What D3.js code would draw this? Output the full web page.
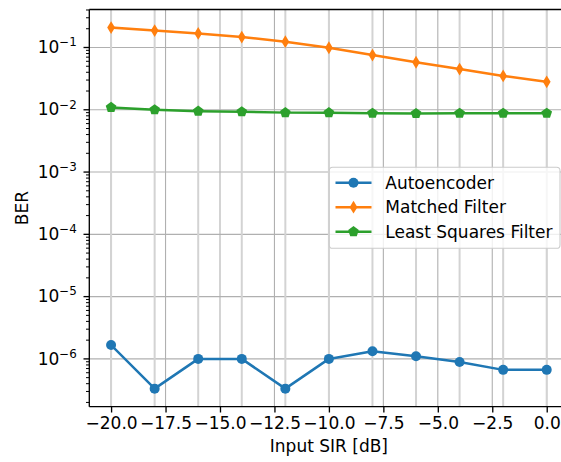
<!DOCTYPE html>
<html>
<head>
<meta charset="utf-8">
<script src="https://cdn.jsdelivr.net/npm/d3@7"></script>
<style>
  html, body { margin: 0; padding: 0; background: #fff; }
  svg { display: block; font-family: "DejaVu Sans", sans-serif; }
</style>
</head>
<body>
<div id="chart"></div>
<script>
// Input SIR values (dB)
const sir = [-20, -18, -16, -14, -12, -10, -8, -6, -4, -2, 0];

// Bit error rates per receiver
const autoencoder    = [1.67e-6, 3.33e-7, 1.0e-6, 1.0e-6, 3.33e-7, 1.0e-6, 1.33e-6, 1.1e-6, 8.9e-7, 6.67e-7, 6.67e-7];
const matchedFilter  = [0.209, 0.187, 0.168, 0.147, 0.124, 0.099, 0.0755, 0.058, 0.045, 0.035, 0.0281];
const leastSquares   = [0.0109, 0.0100, 0.0095, 0.0093, 0.0090, 0.0090, 0.0088, 0.0087, 0.0088, 0.0088, 0.0088];

const seriesNames = ["Autoencoder", "Matched Filter", "Least Squares Filter"];
const seriesColors = ["#1f77b4", "#ff7f0e", "#2ca02c"];
const seriesMarkers = ["circle", "thin_diamond", "pentagon"];

const xTicks = [-20, -17.5, -15, -12.5, -10, -7.5, -5, -2.5, 0];
const yMajorExponents = [-6, -5, -4, -3, -2, -1];

const W = 561, H = 462;
const fs = 17;
const plot = { left: 89.3, top: 9.5, right: 568.5, bottom: 406.7 };

const svg = d3.select("#chart").append("svg")
  .attr("width", W).attr("height", H);

const allSeries = [autoencoder, matchedFilter, leastSquares];
const allVals = allSeries.flat();
const lmin = Math.log10(d3.min(allVals)), lmax = Math.log10(d3.max(allVals));
const pad = 0.05 * (lmax - lmin);

const x = d3.scaleLinear().domain([-21, 1]).range([plot.left, plot.right]);
const y = d3.scaleLog().domain([10 ** (lmin - pad), 10 ** (lmax + pad)]).range([plot.bottom, plot.top]);

svg.append("clipPath").attr("id", "plotclip").append("rect")
  .attr("x", plot.left).attr("y", plot.top)
  .attr("width", plot.right - plot.left).attr("height", plot.bottom - plot.top);

const g = svg.append("g");

// major grid
const gridG = g.append("g").attr("clip-path", "url(#plotclip)");
gridG.selectAll("line.gx").data(xTicks).join("line")
  .attr("x1", d => x(d)).attr("x2", d => x(d))
  .attr("y1", plot.top).attr("y2", plot.bottom)
  .attr("stroke", "#b0b0b0").attr("stroke-width", 1.1);
gridG.selectAll("line.gy").data(yMajorExponents).join("line")
  .attr("x1", plot.left).attr("x2", plot.right)
  .attr("y1", d => y(10 ** d)).attr("y2", d => y(10 ** d))
  .attr("stroke", "#b0b0b0").attr("stroke-width", 1.1);

// reference lines at each measured SIR
gridG.selectAll("line.vx").data(sir).join("line")
  .attr("x1", d => x(d)).attr("x2", d => x(d))
  .attr("y1", plot.top).attr("y2", plot.bottom)
  .attr("stroke", "#d3d3d3").attr("stroke-width", 2);

// marker shapes
function markerPath(type, size) {
  if (type === "circle") {
    return d3.symbol(d3.symbolCircle, Math.PI * (size / 2) ** 2)();
  }
  if (type === "thin_diamond") {
    const h = size * 0.64, w = size * 0.39;
    return `M0,${-h}L${w},0L0,${h}L${-w},0Z`;
  }
  if (type === "pentagon") {
    const r = size * 0.56;
    let p = "";
    for (let i = 0; i < 5; i++) {
      const a = -Math.PI / 2 + i * 2 * Math.PI / 5;
      p += (i ? "L" : "M") + (r * Math.cos(a)).toFixed(2) + "," + (r * Math.sin(a)).toFixed(2);
    }
    return p + "Z";
  }
}

const line = d3.line().x(d => x(d[0])).y(d => y(d[1]));
const dataG = g.append("g").attr("clip-path", "url(#plotclip)");
allSeries.forEach((vals, i) => {
  const pts = sir.map((s, j) => [s, vals[j]]);
  dataG.append("path").datum(pts)
    .attr("d", line).attr("fill", "none")
    .attr("stroke", seriesColors[i]).attr("stroke-width", 2.5)
    .attr("stroke-linejoin", "round").attr("stroke-linecap", "square");
  dataG.selectAll(null).data(pts).join("path")
    .attr("transform", d => `translate(${x(d[0])},${y(d[1])})`)
    .attr("d", markerPath(seriesMarkers[i], 10))
    .attr("fill", seriesColors[i]);
});

// x axis
const xAxis = d3.axisBottom(x).tickValues(xTicks)
  .tickFormat(d => d3.format(".1f")(d).replace("-", "\u2212"))
  .tickSize(5.8).tickPadding(4.6);
const xg = svg.append("g").attr("transform", `translate(0,${plot.bottom})`).call(xAxis);
xg.select(".domain").remove();
xg.selectAll(".tick line").attr("stroke", "#000").attr("stroke-width", 1.33);
xg.selectAll(".tick text").attr("font-size", fs).attr("fill", "#000")
  .attr("font-family", "DejaVu Sans");

// y axis: minor ticks
const [d0, d1] = y.domain();
const minor = [];
for (let e = Math.floor(Math.log10(d0)); e <= Math.ceil(Math.log10(d1)); e++) {
  for (let k = 2; k <= 9; k++) {
    const v = k * 10 ** e;
    if (v >= d0 && v <= d1) minor.push(v);
  }
}
const yg = svg.append("g");
yg.selectAll("line.minor").data(minor).join("line")
  .attr("x1", plot.left - 3.3).attr("x2", plot.left)
  .attr("y1", d => y(d)).attr("y2", d => y(d))
  .attr("stroke", "#000").attr("stroke-width", 1.0);
yg.selectAll("line.major").data(yMajorExponents).join("line")
  .attr("x1", plot.left - 5.8).attr("x2", plot.left)
  .attr("y1", d => y(10 ** d)).attr("y2", d => y(10 ** d))
  .attr("stroke", "#000").attr("stroke-width", 1.33);
const yl = yg.selectAll("text.major").data(yMajorExponents).join("text")
  .attr("x", plot.left - 12.5).attr("y", d => y(10 ** d) + 5.6)
  .attr("text-anchor", "end").attr("font-size", fs).attr("fill", "#000");
yl.append("tspan").text("10");
yl.append("tspan").attr("dy", -6.8).attr("font-size", fs * 0.7)
  .text(d => "\u2212" + Math.abs(d));

// spines
const spine = (x1, y1, x2, y2) => svg.append("line")
  .attr("x1", x1).attr("y1", y1).attr("x2", x2).attr("y2", y2)
  .attr("stroke", "#000").attr("stroke-width", 1.33);
spine(plot.left, plot.top, plot.left, plot.bottom);
spine(plot.left, plot.bottom, plot.right, plot.bottom);
spine(plot.left, plot.top, plot.right, plot.top);
spine(plot.right, plot.top, plot.right, plot.bottom);

// axis labels
svg.append("text").attr("x", (plot.left + plot.right) / 2).attr("y", 451.5)
  .attr("text-anchor", "middle").attr("font-size", fs).text("Input SIR [dB]");
svg.append("text")
  .attr("transform", `translate(28,${(plot.top + plot.bottom) / 2}) rotate(-90)`)
  .attr("text-anchor", "middle").attr("font-size", fs).text("BER");

// legend
const leg = svg.append("g");
leg.append("rect").attr("x", 329.3).attr("y", 167.3).attr("width", 230.7).attr("height", 81)
  .attr("rx", 3.4).attr("fill", "#fff").attr("fill-opacity", 0.8)
  .attr("stroke", "#cccccc").attr("stroke-width", 1.1);
seriesNames.forEach((name, i) => {
  const cy = 182.7 + i * 24.5;
  leg.append("line").attr("x1", 335.5).attr("x2", 371.5).attr("y1", cy).attr("y2", cy)
    .attr("stroke", seriesColors[i]).attr("stroke-width", 2.5);
  leg.append("path").attr("transform", `translate(353.5,${cy})`)
    .attr("d", markerPath(seriesMarkers[i], 10)).attr("fill", seriesColors[i]);
  leg.append("text").attr("x", 385.3).attr("y", cy + 6).attr("font-size", fs).text(name);
});
</script>
</body>
</html>
